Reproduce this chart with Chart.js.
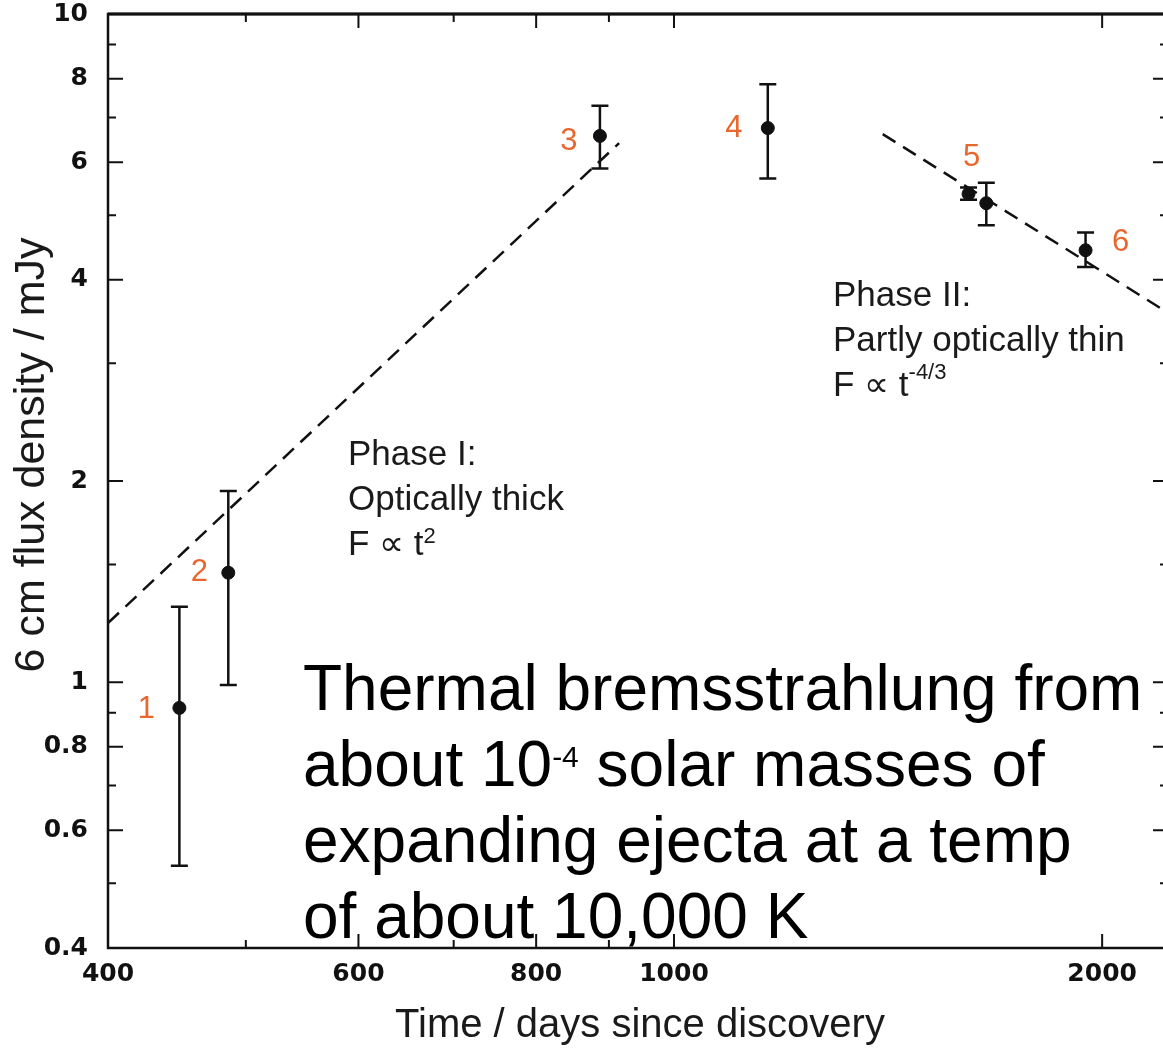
<!DOCTYPE html>
<html>
<head>
<meta charset="utf-8">
<title>6 cm flux density</title>
<script src="https://cdn.jsdelivr.net/npm/chart.js@4.4.0/dist/chart.umd.min.js"></script>
<style>
  html, body { margin: 0; padding: 0; background: #fff; overflow: hidden; }
  #wrap { position: relative; width: 1180px; height: 1048px; }
  #chart { position: absolute; left: 0; top: 0; }
  .note { position: absolute; font-family: "Liberation Sans", Arial, sans-serif; white-space: nowrap; }
  .phase { font-size: 35px; line-height: 45px; color: #1a1a1a; }
  .big { font-size: 64px; line-height: 76px; color: #000; }
  .sup { position: relative; line-height: 0; }
</style>
</head>
<body>
<div id="wrap">
  <canvas id="chart" width="1180" height="1048"></canvas>
  <div class="note phase" style="left:348px; top:430px;">Phase I:<br>Optically thick<br>F &#8733; t<span class="sup" style="font-size:22px; top:-12px;">2</span></div>
  <div class="note phase" style="left:833px; top:271px;">Phase II:<br>Partly optically thin<br>F &#8733; t<span class="sup" style="font-size:22px; top:-17px;">-4/3</span></div>
  <div class="note big" style="left:303px; top:650px;">Thermal bremsstrahlung from<br>about 10<span class="sup" style="font-size:30px; top:-19px;">-4</span> solar masses of<br>expanding ejecta at a temp<br>of about 10,000 K</div>
</div>
<script>
// measured 6 cm flux per epoch (mJy) with error bar ends
const days = [449, 486, 887, 1164, 1611, 1658, 1947];
const flux = [0.915, 1.458, 6.57, 6.75, 5.38, 5.21, 4.43];
const fluxLow = [0.531, 0.99, 5.87, 5.675, 5.27, 4.83, 4.18];
const fluxHigh = [1.297, 1.932, 7.29, 7.85, 5.5, 5.59, 4.71];
const epochNames = ["1", "2", "3", "4", "5", "", "6"];

// dashed power-law fits, end points
const phase1Days = [400, 915];
const phase1Flux = [1.226, 6.41];
const phase2Days = [1402, 2225];
const phase2Flux = [6.61, 3.57];

const xTickLabels = [400, 600, 800, 1000, 2000];
const xMinorTicks = [500, 700, 900];
const yTickLabels = [0.4, 0.6, 0.8, 1, 2, 4, 6, 8, 10];
const yMinorTicks = [0.5, 0.7, 0.9, 1.5, 3, 5, 7, 9];

const xTitle = "Time / days since discovery";
const yTitle = "6 cm flux density / mJy";

const ink = "#111";
const orange = "#e8672e";

// label offsets in px from each point
const labelShift = [[-33, 2], [-29, 0], [-31, 6], [-34, 0], [3, -36], null, [35, -8]];

const errorBars = {
  id: "errorBars",
  afterDatasetsDraw(chart) {
    const { ctx, scales: { x, y } } = chart;
    ctx.save();
    ctx.strokeStyle = ink;
    ctx.lineWidth = 2.5;
    ctx.beginPath();
    days.forEach((d, i) => {
      const px = x.getPixelForValue(d);
      const top = y.getPixelForValue(fluxHigh[i]);
      const bot = y.getPixelForValue(fluxLow[i]);
      ctx.moveTo(px, top); ctx.lineTo(px, bot);
      ctx.moveTo(px - 8.5, top); ctx.lineTo(px + 8.5, top);
      ctx.moveTo(px - 8.5, bot); ctx.lineTo(px + 8.5, bot);
    });
    ctx.stroke();

    ctx.fillStyle = orange;
    ctx.font = '31px "Liberation Sans", Arial, sans-serif';
    ctx.textAlign = "center";
    ctx.textBaseline = "middle";
    days.forEach((d, i) => {
      if (!epochNames[i]) return;
      const px = x.getPixelForValue(d);
      const py = y.getPixelForValue(flux[i]);
      ctx.fillText(epochNames[i], px + labelShift[i][0], py + labelShift[i][1]);
    });
    ctx.restore();
  },
};

const frame = {
  id: "frame",
  afterDraw(chart) {
    const { ctx, chartArea: a, scales: { x, y } } = chart;
    ctx.save();
    ctx.strokeStyle = ink;
    ctx.lineWidth = 2.5;
    ctx.strokeRect(a.left, a.top, a.right - a.left, a.bottom - a.top);
    ctx.lineWidth = 3;
    ctx.beginPath();
    ctx.moveTo(a.left, a.top); ctx.lineTo(a.right, a.top);
    ctx.stroke();

    ctx.lineWidth = 2;
    ctx.beginPath();
    const mark = (px, py, dx, dy) => { ctx.moveTo(px, py); ctx.lineTo(px + dx, py + dy); };
    xTickLabels.forEach((v) => {
      const p = x.getPixelForValue(v);
      mark(p, a.bottom, 0, -14); mark(p, a.top, 0, 14);
    });
    xMinorTicks.forEach((v) => {
      const p = x.getPixelForValue(v);
      mark(p, a.bottom, 0, -8); mark(p, a.top, 0, 8);
    });
    yTickLabels.forEach((v) => {
      const p = y.getPixelForValue(v);
      mark(a.left, p, 15, 0); mark(a.right, p, -15, 0);
    });
    yMinorTicks.forEach((v) => {
      const p = y.getPixelForValue(v);
      mark(a.left, p, 8, 0); mark(a.right, p, -8, 0);
    });
    ctx.stroke();

    ctx.fillStyle = "#1a1a1a";
    ctx.textAlign = "center";
    ctx.textBaseline = "alphabetic";
    ctx.font = '40px "Liberation Sans", Arial, sans-serif';
    ctx.fillText(xTitle, (a.left + a.right) / 2 + 2, 1037);
    ctx.translate(44, 455);
    ctx.rotate(-Math.PI / 2);
    ctx.font = '43px "Liberation Sans", Arial, sans-serif';
    ctx.fillText(yTitle, 0, 0);
    ctx.restore();
  },
};

const tickFont = { family: '"DejaVu Sans", sans-serif', weight: "bold", size: 25 };

new Chart(document.getElementById("chart"), {
  type: "scatter",
  data: {
    datasets: [
      {
        data: phase1Days.map((d, i) => ({ x: d, y: phase1Flux[i] })),
        showLine: true,
        borderColor: ink,
        borderWidth: 2.5,
        borderDash: [15, 9],
        pointRadius: 0,
      },
      {
        data: phase2Days.map((d, i) => ({ x: d, y: phase2Flux[i] })),
        showLine: true,
        borderColor: ink,
        borderWidth: 2.5,
        borderDash: [15, 9],
        pointRadius: 0,
      },
      {
        data: days.map((d, i) => ({ x: d, y: flux[i] })),
        backgroundColor: ink,
        borderColor: ink,
        pointRadius: 6.5,
        pointHoverRadius: 6.5,
      },
    ],
  },
  options: {
    responsive: false,
    devicePixelRatio: 1,
    animation: false,
    events: [],
    layout: { padding: { top: 14, right: 12, left: 0, bottom: 0 } },
    plugins: { legend: { display: false }, tooltip: { enabled: false } },
    scales: {
      x: {
        type: "logarithmic",
        min: 400,
        max: 2225,
        grid: { display: false, drawTicks: false },
        border: { display: false },
        afterBuildTicks: (s) => { s.ticks = xTickLabels.map((v) => ({ value: v })); },
        afterFit: (s) => { s.height = 100; s.paddingLeft = 0; s.paddingRight = 0; },
        ticks: {
          autoSkip: false,
          maxRotation: 0,
          padding: 11,
          color: ink,
          font: tickFont,
          callback: (v) => String(v),
        },
      },
      y: {
        type: "logarithmic",
        min: 0.4,
        max: 10,
        grid: { display: false, drawTicks: false },
        border: { display: false },
        afterBuildTicks: (s) => { s.ticks = yTickLabels.map((v) => ({ value: v })); },
        afterFit: (s) => { s.width = 108; s.paddingTop = 0; s.paddingBottom = 0; },
        ticks: {
          autoSkip: false,
          padding: 20,
          color: ink,
          font: tickFont,
          callback: (v) => String(v),
        },
      },
    },
  },
  plugins: [errorBars, frame],
});
</script>
</body>
</html>
